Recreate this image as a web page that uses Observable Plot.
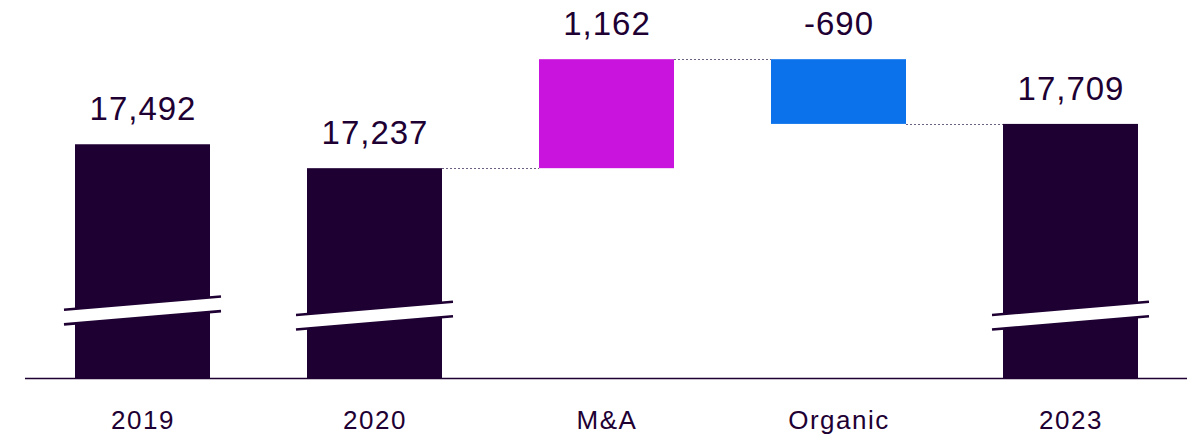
<!DOCTYPE html>
<html><head><meta charset="utf-8">
<script src="https://cdn.jsdelivr.net/npm/d3@7"></script>
<script src="https://cdn.jsdelivr.net/npm/@observablehq/plot@0.6"></script>
<style>
body{margin:0;background:#fff;}
#chart g[aria-label="x-axis tick label"] text{letter-spacing:1.5px;}
#chart g[aria-label="text"] text{letter-spacing:1px;}
</style>
</head><body><div id="chart"></div>
<script>
const categories = ["2019", "2020", "M&A", "Organic", "2023"];
const values = [17492, 17237, 1162, -690, 17709];
const kinds = ["total", "total", "delta", "delta", "total"];
const barColors = ["#1e0033", "#1e0033", "#c814dc", "#0c72ec", "#1e0033"];
const axisFloor = 15000;   // value shown at the broken-axis baseline
const axisCeil = 19030;
const breakLevels = [15720, 15665, null, null, 15665];

let running = 0;
const rows = categories.map((c, i) => {
  let y1, y2;
  if (kinds[i] === "total") { y1 = axisFloor; y2 = values[i]; }
  else { y1 = running; y2 = running + values[i]; }
  running = y2;
  return {cat: c, y1, y2, top: Math.max(y1, y2), value: values[i], color: barColors[i], brk: breakLevels[i]};
});
const connectors = [];
for (let i = 1; i < rows.length - 1; i++) {
  connectors.push({from: rows[i].cat, to: rows[i + 1].cat, level: rows[i].y2});
}

function connectorMark(index, scales) {
  const g = d3.create("svg:g").attr("aria-label", "connectors");
  const bw = scales.x.bandwidth();
  for (const c of connectors) {
    const y = Math.round(scales.y(c.level)) + 0.5;
    g.append("line")
      .attr("x1", scales.x(c.from) + bw).attr("x2", scales.x(c.to))
      .attr("y1", y).attr("y2", y)
      .attr("stroke", "#6e6080").attr("stroke-width", 1).attr("stroke-dasharray", "2,2");
  }
  return g.node();
}

function breaks(index, scales) {
  const g = d3.create("svg:g").attr("aria-label", "axis breaks");
  const bw = scales.x.bandwidth();
  const ext = 11, half = 7.3, rise = 6.6;
  for (const r of rows) {
    if (r.brk == null) continue;
    const x0 = scales.x(r.cat) - ext, x1 = scales.x(r.cat) + bw + ext;
    const yc = scales.y(r.brk);
    g.append("polygon")
      .attr("points", [[x0, yc + rise - half], [x1, yc - rise - half], [x1, yc - rise + half], [x0, yc + rise + half]].map(p => p.join(",")).join(" "))
      .attr("fill", "#fff");
    for (const s of [-half, half]) {
      g.append("line")
        .attr("x1", x0).attr("y1", yc + rise + s)
        .attr("x2", x1).attr("y2", yc - rise + s)
        .attr("stroke", "#1e0033").attr("stroke-width", 2.6);
    }
  }
  return g.node();
}

const chart = Plot.plot({
  width: 1193, height: 435,
  marginLeft: 25, marginRight: 6, marginTop: 0, marginBottom: 57,
  x: {domain: categories, paddingInner: 0.42, paddingOuter: 0.21, axis: null},
  y: {domain: [axisFloor, axisCeil], axis: null},
  color: {type: "identity"},
  style: {fontFamily: "'Liberation Sans', Arial, sans-serif", color: "#1e0033", background: "#fff"},
  marks: [
    connectorMark,
    Plot.barY(rows, {x: "cat", y1: "y1", y2: "y2", fill: "color"}),
    breaks,
    Plot.ruleY([axisFloor], {stroke: "#1e0033", strokeWidth: 1.5}),
    Plot.text(rows, {x: "cat", y: "top", text: d => d.value.toLocaleString("en-US"), dy: -35, fontSize: 33, fill: "#1e0033"}),
    Plot.axisX({tickSize: 0, tickPadding: 32, fontSize: 26, label: null, fill: "#1e0033"})
  ]
});
document.getElementById("chart").append(chart);
</script>
</body></html>
